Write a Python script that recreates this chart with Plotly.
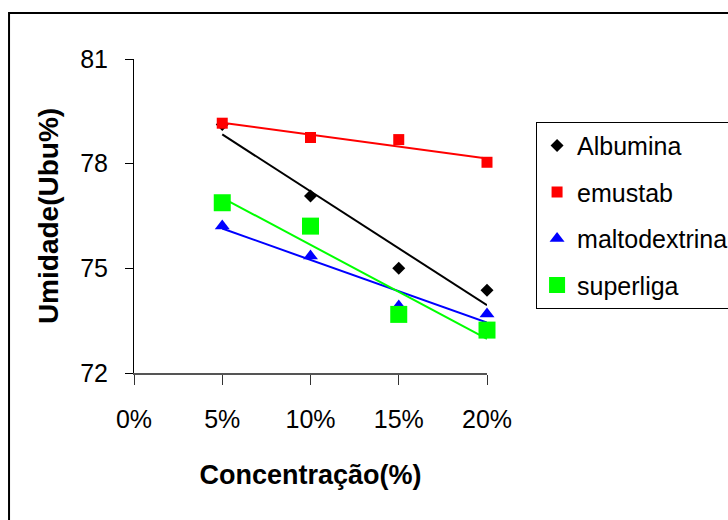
import numpy as np
import plotly.graph_objects as go

# Concentration levels (%) and moisture content (Ubu%) per additive
concentracao = [5, 10, 15, 20]
x_ticks = [0, 5, 10, 15, 20]
x_tick_labels = ["0%", "5%", "10%", "15%", "20%"]
y_ticks = [72, 75, 78, 81]

albumina = [79.12, 77.07, 75.00, 74.37]
emustab = [79.16, 78.75, 78.69, 78.04]
maltodextrina = [76.21, 75.35, 73.92, 73.69]
superliga = [76.88, 76.21, 73.68, 73.23]

series = [
    ("Albumina", albumina, "#000000", "diamond", 10),
    ("emustab", emustab, "#FF0000", "square", 11),
    ("maltodextrina", maltodextrina, "#0000FF", "triangle-up", 13),
    ("superliga", superliga, "#00FF00", "square", 17),
]

FONT = "Liberation Sans, Arial, sans-serif"

fig = go.Figure()
xs = np.array(concentracao, dtype=float)
for name, vals, color, symbol, size in series:
    # linear trendline (least squares) between first and last concentration
    slope, intercept = np.polyfit(xs, np.array(vals), 1)
    x_line = [xs[0], xs[-1]]
    fig.add_trace(go.Scatter(
        x=x_line, y=[slope * v + intercept for v in x_line],
        mode="lines", line=dict(color=color, width=2),
        showlegend=False, hoverinfo="skip", legendgroup=name,
    ))
    fig.add_trace(go.Scatter(
        x=concentracao, y=vals, mode="markers", name=name,
        marker=dict(symbol=symbol, size=size, color=color),
        cliponaxis=False, legendgroup=name,
    ))

fig.update_layout(
    width=728, height=520,
    margin=dict(l=134, r=241, t=59, b=147, autoexpand=False),
    paper_bgcolor="white", plot_bgcolor="white",
    font=dict(family=FONT, color="black", size=25),
    showlegend=True,
    legend=dict(
        x=1.139, y=0.80, xanchor="left", yanchor="top",
        bordercolor="black", borderwidth=1,
        font=dict(size=25, family=FONT),
        tracegroupgap=11, traceorder="grouped",
        itemsizing="trace",
    ),
    xaxis=dict(
        range=[0, 20], tickvals=x_ticks, ticktext=x_tick_labels,
        showgrid=False, zeroline=False,
        showline=True, linecolor="#555555", linewidth=2,
        ticks="outside", ticklen=10, tickcolor="#333333",
        ticklabelstandoff=13,
        tickfont=dict(size=25),
        title=dict(text="<b>Concentração(%)</b>", font=dict(size=27), standoff=33),
    ),
    yaxis=dict(
        range=[72, 81], tickvals=y_ticks,
        showgrid=False, zeroline=False,
        showline=True, linecolor="black", linewidth=1,
        ticks="outside", ticklen=8, tickcolor="black",
        ticklabelstandoff=12,
        tickfont=dict(size=25),
        title=dict(text="<b>Umidade(Ubu%)</b>", font=dict(size=28), standoff=13),
    ),
    shapes=[dict(
        type="rect", xref="paper", yref="paper",
        x0=-0.354, x1=2.0, y0=-1.0, y1=1.1465,
        line=dict(color="black", width=2), layer="above",
    )],
)

fig.write_html("out.html")
